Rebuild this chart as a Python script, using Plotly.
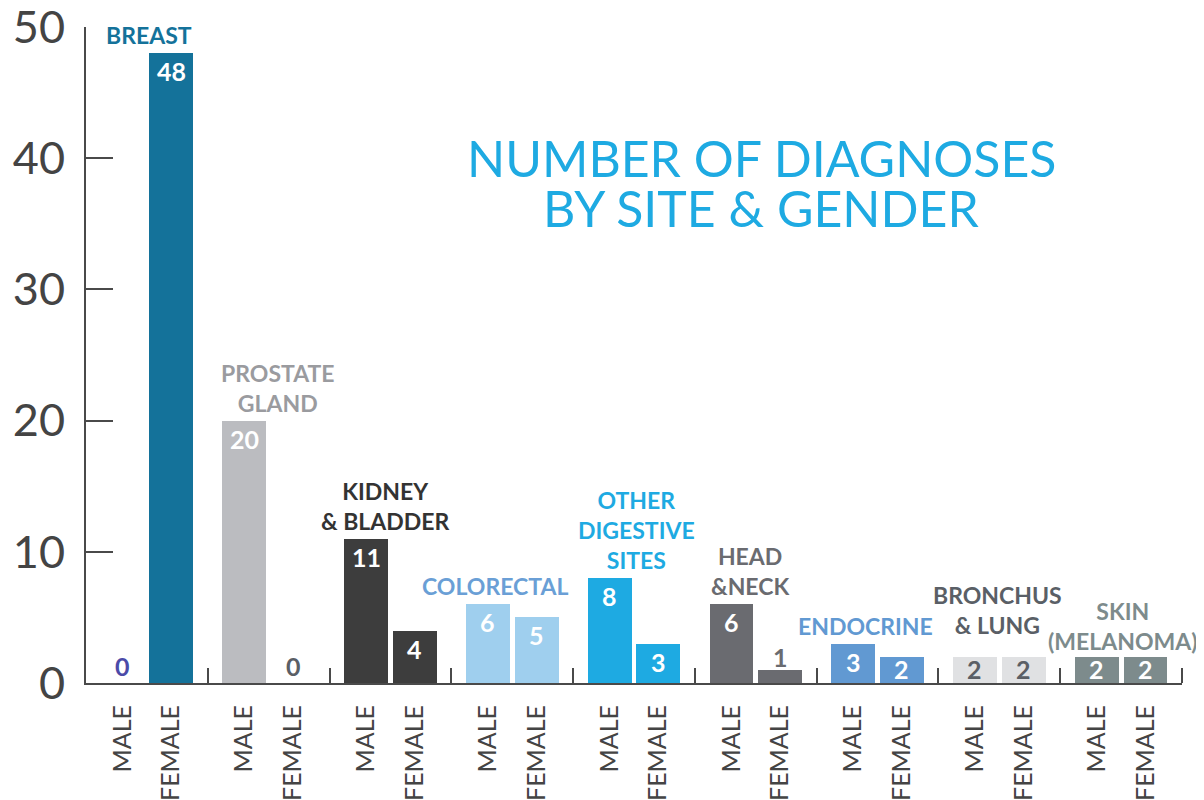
import plotly.graph_objects as go

# ---- data ----
sites = ["BREAST", "PROSTATE<br>GLAND", "KIDNEY<br>& BLADDER", "COLORECTAL",
         "OTHER<br>DIGESTIVE<br>SITES", "HEAD<br>&NECK", "ENDOCRINE",
         "BRONCHUS<br>& LUNG", "SKIN<br>(MELANOMA)"]
male = [0, 20, 11, 6, 8, 6, 3, 2, 2]
female = [48, 0, 4, 5, 3, 1, 2, 2, 2]
genders = ["MALE", "FEMALE"]
y_ticks = [0, 10, 20, 30, 40, 50]
title_lines = ["NUMBER OF DIAGNOSES", "BY SITE & GENDER"]

# ---- styles ----
bar_colors = ["#14729A", "#BBBCC0", "#3D3D3D", "#9FCFEE", "#1EAAE2",
              "#6A6B70", "#6199D2", "#E0E1E3", "#7D8B8C"]
label_colors = ["#14729A", "#9A9B9F", "#333333", "#6A9FD6", "#1EAAE2",
                "#6A6B70", "#6199D2", "#5A5F66", "#7D8B8C"]
inside_text_colors = ["#FFFFFF"] * 7 + ["#5A5F66", "#FFFFFF"]
outside_text_colors = ["#4B4BA8", "#5A5F66", "#333333", "#6A9FD6", "#1EAAE2",
                       "#6A6B70", "#6199D2", "#5A5F66", "#7D8B8C"]
label_xshift = [2, 9, -5, -17, 2, -6, -12, -2, 2]
label_yshift = [2, 2, 2, 2, 2, 2, 2, 16, 0]

FONT = "Lato"
n = len(sites)
male_x = [i + 0.30 for i in range(n)]
female_x = [i + 0.70 for i in range(n)]
BW = 0.36

# page body has an 8px margin, so the div is offset by (8, 8) on screen
OFF = 8
W, H = 1204, 800
L, T = 86 - OFF, 27 - OFF
R = W - (1182 - OFF)
B = H - (683 - OFF)
px_per_unit = (H - T - B) / 50.0

fig = go.Figure()
fig.add_trace(go.Bar(x=male_x, y=male, width=BW, marker_color=bar_colors,
                     marker_line_width=0, showlegend=False, hoverinfo="y"))
fig.add_trace(go.Bar(x=female_x, y=female, width=BW, marker_color=bar_colors,
                     marker_line_width=0, showlegend=False, hoverinfo="y"))

annotations = []
for i in range(n):
    for xv, v in ((male_x[i], male[i]), (female_x[i], female[i])):
        if v >= 2:
            ylab = max(v - 19 / px_per_unit, v / 2)
            annotations.append(dict(x=xv, y=ylab, xref="x", yref="y", text=str(v),
                                    showarrow=False, yanchor="middle", yshift=1,
                                    font=dict(family=FONT, size=25, weight=700,
                                              color=inside_text_colors[i])))
        else:
            annotations.append(dict(x=xv, y=v, xref="x", yref="y", text=str(v),
                                    showarrow=False, yanchor="bottom",
                                    yshift=0 if v == 0 else -4,
                                    font=dict(family=FONT, size=25, weight=700,
                                              color=outside_text_colors[i])))
    annotations.append(dict(x=i + 0.5, y=max(male[i], female[i]), xref="x", yref="y",
                            text=sites[i], showarrow=False, yanchor="bottom",
                            xshift=label_xshift[i], yshift=label_yshift[i],
                            font=dict(family=FONT, size=23, weight=700,
                                      color=label_colors[i])))

for k, line in enumerate(title_lines):
    annotations.append(dict(x=(761 - OFF - L) / (W - L - R),
                            y=1 - ((158 + 50 * k - OFF) - T) / (H - T - B),
                            xref="paper", yref="paper", text=line, showarrow=False,
                            xanchor="center", yanchor="middle",
                            font=dict(family=FONT, size=50, weight=400, color="#1EAAE2")))

fig.update_layout(
    width=W, height=H,
    margin=dict(l=L, r=R, t=T, b=B),
    paper_bgcolor="white", plot_bgcolor="white",
    bargap=0,
    annotations=annotations,
    font=dict(family=FONT, color="#444444"),
    xaxis=dict(
        range=[0, n], showgrid=False, zeroline=False, automargin=False,
        showline=True, linecolor="#4A4A4A", linewidth=2,
        tickmode="array",
        tickvals=[v for pair in zip(male_x, female_x) for v in pair],
        ticktext=[g for _ in range(n) for g in genders],
        ticks="", tickangle=-90,
        tickfont=dict(family=FONT, size=25, color="#444444"),
        ticklabelstandoff=10, ticklabeloverflow="allow",
        minor=dict(tickmode="array", tickvals=list(range(1, n + 1)),
                   ticks="inside", ticklen=15, tickwidth=2, tickcolor="#4A4A4A"),
    ),
    yaxis=dict(
        range=[0, 50.01], showgrid=False, zeroline=False, automargin=False,
        showline=True, linecolor="#4A4A4A", linewidth=2,
        tickmode="array", tickvals=y_ticks,
        ticks="inside", ticklen=27, tickwidth=2, tickcolor="#4A4A4A",
        tickfont=dict(family=FONT, size=45, weight=400, color="#444444"),
        ticklabelstandoff=10, ticklabeloverflow="allow",
    ),
)

fig.write_html("out.html")
